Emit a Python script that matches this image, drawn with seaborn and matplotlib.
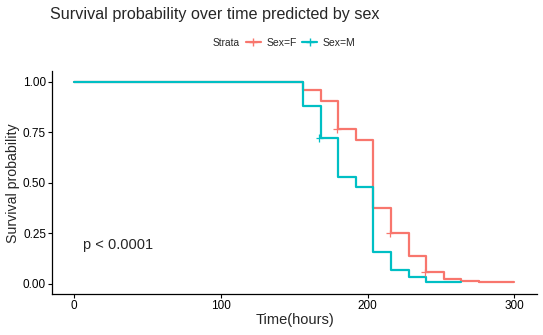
import matplotlib
matplotlib.use("Agg")
import matplotlib.pyplot as plt
from matplotlib.lines import Line2D
import seaborn as sns
import pandas as pd

# ---- data ----
strata = ["Sex=F", "Sex=M"]
times_F = [0, 156, 168, 180, 192, 204, 216, 228, 240, 252, 264, 276, 300]
surv_F = [1.0, 0.96, 0.905, 0.765, 0.709, 0.373, 0.25, 0.138, 0.057, 0.024, 0.015, 0.007, 0.007]
times_M = [0, 156, 168, 180, 192, 204, 216, 228, 240, 264]
surv_M = [1.0, 0.88, 0.72, 0.53, 0.481, 0.157, 0.069, 0.033, 0.007, 0.007]
cens_t_F = [179, 215, 239]
cens_s_F = [0.765, 0.25, 0.057]
cens_t_M = [167]
cens_s_M = [0.72]
x_ticks = [0, 100, 200, 300]
y_ticks = [0.0, 0.25, 0.5, 0.75, 1.0]
y_tick_labels = ["0.00", "0.25", "0.50", "0.75", "1.00"]
colors = {"Sex=F": "#F8766D", "Sex=M": "#00BFC4"}
pval_text = "p < 0.0001"

df = pd.concat([
    pd.DataFrame({"time": times_F, "surv": surv_F, "strata": strata[0]}),
    pd.DataFrame({"time": times_M, "surv": surv_M, "strata": strata[1]}),
], ignore_index=True)
cdf = pd.concat([
    pd.DataFrame({"time": cens_t_F, "surv": cens_s_F, "strata": strata[0]}),
    pd.DataFrame({"time": cens_t_M, "surv": cens_s_M, "strata": strata[1]}),
], ignore_index=True)

sns.set_theme(style="ticks")
plt.rcParams["font.family"] = ["Liberation Sans", "DejaVu Sans"]

fig = plt.figure(figsize=(5.43, 3.35), dpi=100)
ax = fig.add_axes([0.0963, 0.1224, 0.8927, 0.6645])

sns.lineplot(data=df, x="time", y="surv", hue="strata", palette=colors,
             drawstyle="steps-post", estimator=None, sort=False,
             linewidth=1.6, legend=False, ax=ax)
sns.scatterplot(data=cdf, x="time", y="surv", hue="strata", palette=colors,
                marker="+", s=28, linewidth=0.9, legend=False, ax=ax, zorder=3)

ax.set_xlim(-15, 315.5)
ax.set_ylim(-0.05, 1.05)
ax.set_xticks(x_ticks)
ax.set_yticks(y_ticks)
ax.set_yticklabels(y_tick_labels)
ax.tick_params(axis="both", labelsize=8.5, length=3, width=0.8, pad=1.5, colors="black")
for s in ["top", "right"]:
    ax.spines[s].set_visible(False)
for s in ["left", "bottom"]:
    ax.spines[s].set_linewidth(0.9)
    ax.spines[s].set_color("black")

ax.set_xlabel("Time(hours)", fontsize=10.5, va="center")
ax.set_ylabel("Survival probability", fontsize=10.2, va="center")
ax.xaxis.set_label_coords(0.5, (335 - 320 - 41) / 222.6)
ax.yaxis.set_label_coords((13.5 - 52.3) / 484.7, 0.496)

ax.text(6, 0.19, pval_text, fontsize=10.5, ha="left", va="center")

fig.text(50 / 543, 1 - 14.5 / 335, "Survival probability over time predicted by sex",
         fontsize=11.6, ha="left", va="center")

# legend
fig.text(213 / 543, 1 - 43 / 335, "Strata", fontsize=7.3, ha="left", va="center")
handles = [Line2D([], [], color=colors[k], lw=1.6, marker="+", markersize=6,
                  markeredgewidth=1.0) for k in strata]
fig.legend(handles, strata, loc="center left", bbox_to_anchor=(246 / 543, 1 - 43 / 335),
           ncol=2, frameon=False, fontsize=7.5, handlelength=1.4, handletextpad=0.55,
           columnspacing=0.55, borderpad=0, borderaxespad=0)

fig.savefig("out.png", dpi=100)
